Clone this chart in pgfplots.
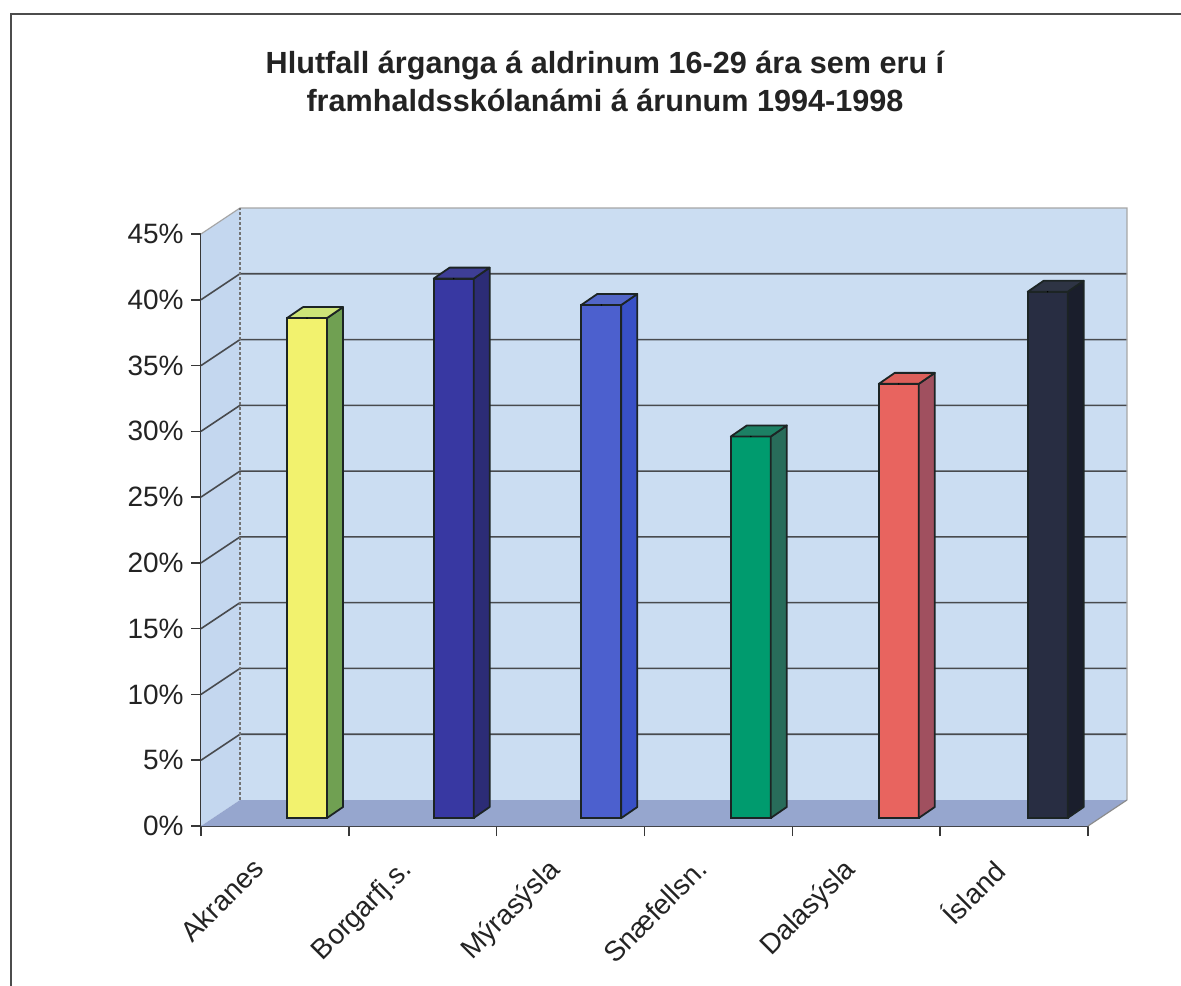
\documentclass[border=0pt]{standalone}
\usepackage{pgfplots}
\pgfplotsset{compat=1.18}
\usepackage{fontspec}
\setmainfont{Liberation Sans}
\definecolor{wall}{RGB}{203,221,242}
\definecolor{lwall}{RGB}{196,215,239}
\definecolor{floorc}{RGB}{150,166,206}
\definecolor{gridc}{RGB}{72,74,78}
\definecolor{axisc}{RGB}{55,55,55}
\definecolor{outl}{RGB}{28,36,36}
\definecolor{txt}{RGB}{35,35,35}
% bar colours: front / side / top
\definecolor{akF}{RGB}{242,242,110}\definecolor{akS}{RGB}{112,160,82}\definecolor{akT}{RGB}{205,228,120}
\definecolor{boF}{RGB}{56,56,162}\definecolor{boS}{RGB}{44,44,118}\definecolor{boT}{RGB}{62,62,150}
\definecolor{myF}{RGB}{76,96,206}\definecolor{myS}{RGB}{56,80,198}\definecolor{myT}{RGB}{82,102,200}
\definecolor{snF}{RGB}{0,155,110}\definecolor{snS}{RGB}{40,108,90}\definecolor{snT}{RGB}{28,128,100}
\definecolor{daF}{RGB}{232,100,95}\definecolor{daS}{RGB}{160,80,95}\definecolor{daT}{RGB}{220,95,90}
\definecolor{isF}{RGB}{40,45,66}\definecolor{isS}{RGB}{26,30,44}\definecolor{isT}{RGB}{46,52,68}

\pgfplotsset{
  frontbar/.style={ybar, bar width=20pt, bar shift=0pt, fill=#1, draw=outl,
    line width=0.9pt, yshift=4pt},
  prism/.style 2 args={scatter, only marks, mark=*, mark size=0.1pt,
    mark options={draw=none, fill=none}, yshift=4pt,
    visualization depends on={rawy \as \ry},
    scatter/@pre marker code/.code={%
      \pgfmathsetlengthmacro\hh{\ry*6.57778pt}%
      \filldraw[fill=#1, draw=outl, line width=0.9pt, line join=round]
        (10pt,0pt) -- (18pt,5.5pt) -- (18pt,5.5pt-\hh) -- (10pt,-\hh) -- cycle;
      \filldraw[fill=#2, draw=outl, line width=0.9pt, line join=round]
        (-10pt,0pt) -- (10pt,0pt) -- (18pt,5.5pt) -- (-2pt,5.5pt) -- cycle;
    },
    scatter/@post marker code/.code={}},
}

\begin{document}
\begin{tikzpicture}
\useasboundingbox (0,0) rectangle (590.5pt,492.5pt);
\fill[white] (0,0) rectangle (590.5pt,492.5pt);
\draw[black!70, line width=0.6pt] (5.5pt,-10pt) rectangle (600pt,485.5pt);
\node[align=center, text=txt, font=\fontsize{15.3}{19}\selectfont\bfseries]
  at (302.5pt,452pt) {Hlutfall árganga á aldrinum 16-29 ára sem eru í\\framhaldsskólanámi á árunum 1994-1998};
\begin{axis}[
  at={(100.5pt,79.5pt)}, anchor=south west,
  scale only axis, width=443.5pt, height=296pt,
  xmin=0, xmax=6, ymin=0, ymax=45, enlargelimits=false,
  clip=false,
  axis lines*=left,
  axis line style={axisc, line width=0.8pt},
  tick align=outside,
  major tick length=5pt, minor tick length=5pt,
  xtick={0.5,1.5,...,5.5},
  xticklabels={Akranes, Borgarfj.s., Mýrasýsla, Snæfellsn., Dalasýsla, Ísland},
  minor xtick={0,1,...,6},
  major x tick style={draw=none},
  minor x tick style={axisc, line width=0.8pt},
  ytick={0,5,...,45},
  yticklabels={0\%,5\%,10\%,15\%,20\%,25\%,30\%,35\%,40\%,45\%},
  y tick style={axisc, line width=0.8pt},
  tick label style={text=txt, font=\fontsize{14}{16}\selectfont},
  xticklabel style={xshift=-12pt, yshift=-10pt, rotate=45, anchor=north east, inner sep=0pt},
  yticklabel style={inner sep=3.5pt},
]
% walls and floor
\fill[wall] ([shift={(19.5pt,13pt)}]axis cs:0,0) rectangle ([shift={(19.5pt,13pt)}]axis cs:6,45);
\fill[lwall] (axis cs:0,0) -- ([shift={(19.5pt,13pt)}]axis cs:0,0) -- ([shift={(19.5pt,13pt)}]axis cs:0,45) -- (axis cs:0,45) -- cycle;
\pgfplotsinvokeforeach{5,10,...,40}{
  \draw[gridc, line width=0.8pt] (axis cs:0,#1) -- ([shift={(19.5pt,13pt)}]axis cs:0,#1) -- ([shift={(19.5pt,13pt)}]axis cs:6,#1);
}
\draw[black!35, line width=0.6pt] (axis cs:0,45) -- ([shift={(19.5pt,13pt)}]axis cs:0,45) -- ([shift={(19.5pt,13pt)}]axis cs:6,45) -- ([shift={(19.5pt,13pt)}]axis cs:6,0);
\draw[black!55, line width=0.6pt, dash pattern=on 1.5pt off 1pt] ([shift={(19.5pt,13pt)}]axis cs:0,0) -- ([shift={(19.5pt,13pt)}]axis cs:0,45);
\fill[floorc] (axis cs:0,0) -- ([shift={(19.5pt,13pt)}]axis cs:0,0) -- ([shift={(19.5pt,13pt)}]axis cs:6,0) -- (axis cs:6,0) -- cycle;
\draw[black!45, line width=0.6pt] (axis cs:6,0) -- ([shift={(19.5pt,13pt)}]axis cs:6,0);

% bars
\addplot[frontbar=akF] coordinates {(0.717,38)};
\addplot[prism={akS}{akT}] coordinates {(0.717,38)};
\addplot[frontbar=boF] coordinates {(1.709,41)};
\addplot[prism={boS}{boT}] coordinates {(1.709,41)};
\addplot[frontbar=myF] coordinates {(2.708,39)};
\addplot[prism={myS}{myT}] coordinates {(2.708,39)};
\addplot[frontbar=snF] coordinates {(3.719,29)};
\addplot[prism={snS}{snT}] coordinates {(3.719,29)};
\addplot[frontbar=daF] coordinates {(4.72,33)};
\addplot[prism={daS}{daT}] coordinates {(4.72,33)};
\addplot[frontbar=isF] coordinates {(5.727,40)};
\addplot[prism={isS}{isT}] coordinates {(5.727,40)};
\end{axis}
\end{tikzpicture}
\end{document}
